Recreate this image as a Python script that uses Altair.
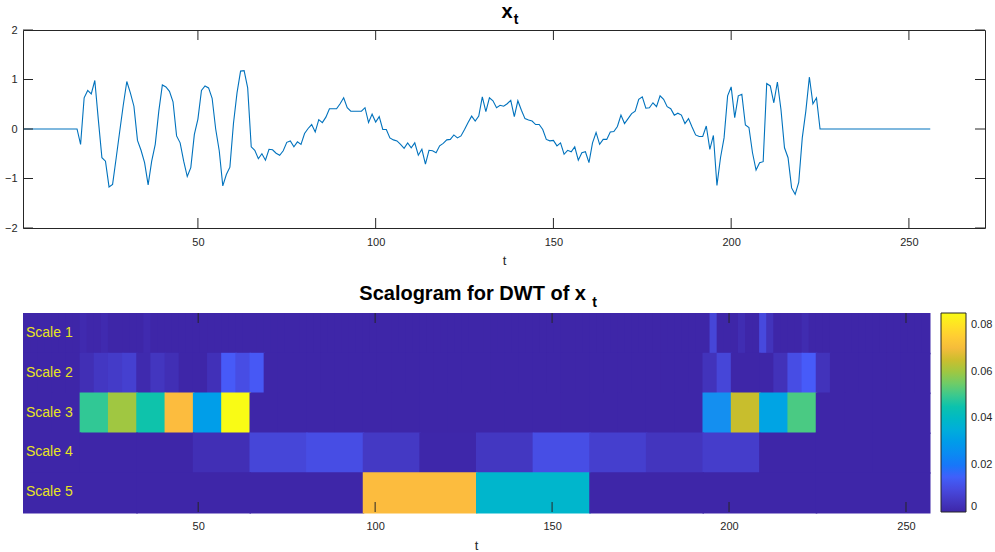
import altair as alt
import pandas as pd

# ---------------- data ----------------
t_vals = list(range(1, 257))
lead_zeros = [0.0] * 16          # t = 1..16
x_active = [                      # t = 17..225
    -0.31, 0.63, 0.78, 0.71, 0.98, 0.18, -0.58, -0.65, -1.17, -1.12,
    -0.59, -0.05, 0.48, 0.96, 0.73, 0.46, -0.23, -0.43, -0.68, -1.13,
    -0.65, -0.31, 0.36, 0.89, 0.85, 0.76, 0.55, -0.14, -0.28, -0.65,
    -0.96, -0.78, -0.11, 0.20, 0.78, 0.87, 0.83, 0.62, 0.00, -0.44,
    -1.15, -0.92, -0.77, 0.11, 0.73, 1.17, 1.18, 0.83, -0.36, -0.43,
    -0.60, -0.50, -0.63, -0.41, -0.42, -0.49, -0.53, -0.44, -0.27, -0.24,
    -0.36, -0.26, -0.31, -0.09, 0.01, 0.09, -0.06, 0.19, 0.13, 0.24,
    0.41, 0.41, 0.41, 0.51, 0.63, 0.43, 0.36, 0.36, 0.36, 0.36,
    0.43, 0.13, 0.30, 0.14, 0.25, -0.01, -0.01, -0.18, -0.22, -0.24,
    -0.31, -0.39, -0.28, -0.38, -0.28, -0.53, -0.41, -0.71, -0.43, -0.44,
    -0.48, -0.34, -0.29, -0.22, -0.21, -0.12, -0.18, -0.14, -0.01, 0.13,
    0.26, 0.16, 0.26, 0.65, 0.35, 0.63, 0.57, 0.43, 0.48, 0.46,
    0.51, 0.58, 0.25, 0.57, 0.38, 0.21, 0.18, 0.16, 0.09, 0.09,
    -0.01, -0.21, -0.24, -0.23, -0.34, -0.28, -0.51, -0.43, -0.46, -0.36,
    -0.63, -0.48, -0.46, -0.68, -0.28, -0.07, -0.31, -0.21, -0.21, -0.06,
    -0.05, 0.05, 0.28, 0.11, 0.21, 0.31, 0.36, 0.60, 0.65, 0.42,
    0.43, 0.53, 0.45, 0.67, 0.60, 0.45, 0.41, 0.28, 0.32, 0.28,
    0.11, 0.21, 0.04, -0.12, -0.15, -0.15, 0.06, -0.41, -0.13, -1.14,
    -0.58, -0.18, 0.67, 0.85, 0.23, 0.67, 0.70, 0.08, 0.03, -0.48,
    -0.83, -0.68, -0.66, 0.92, 0.87, 0.53, 0.95, 0.40, -0.38, -0.58,
    -1.19, -1.32, -1.08, -0.18, 0.36, 1.05, 0.51, 0.63, 0.00,
]
tail_zeros = [0.0] * 31          # t = 226..256
x_signal = lead_zeros + x_active + tail_zeros

scale_names = ["Scale 1", "Scale 2", "Scale 3", "Scale 4", "Scale 5"]

# DWT scalogram energies (coefficient j covers 2^level time points)
scale1_nonzero = {8: 0.0012, 9: 0.0004, 10: 0.0004, 11: 0.0012, 17: 0.0012,
                  97: 0.0085, 101: 0.0018, 104: 0.0095, 105: 0.0035, 110: 0.0015}
scale2 = [
    0, 0, 0, 0, 0.0023, 0.0047, 0.0057, 0.0071, 0.0011, 0.0042, 0.0024, 0, 0, 0.0028, 0.0140, 0.0106,
    0.0135, 0, 0, 0, 0, 0, 0, 0, 0, 0, 0, 0, 0, 0, 0, 0,
    0, 0, 0, 0, 0, 0, 0, 0, 0, 0, 0, 0, 0, 0, 0, 0,
    0.0035, 0.0085, 0, 0, 0, 0.0031, 0.0106, 0.0142, 0.0035, 0, 0, 0, 0, 0, 0, 0,
]
scale3 = [
    0, 0, 0.0489, 0.0600, 0.0453, 0.0710, 0.0304, 0.0850,
    0, 0, 0, 0, 0, 0, 0, 0,
    0, 0, 0, 0, 0, 0, 0, 0,
    0.0262, 0.0645, 0.0323, 0.0513, 0, 0, 0, 0,
]
scale4 = [0, 0, 0, 0.0023, 0.0085, 0.0105, 0.0050, 0.0003,
          0.0045, 0.0108, 0.0068, 0.0040, 0.0062, 0, 0, 0]
scale5 = [0, 0, 0, 0.0710, 0.0385, 0, 0, 0]

scale1 = [scale1_nonzero.get(i, 0.0) for i in range(128)]
levels = [scale1, scale2, scale3, scale4, scale5]

rows = []
for k, (name, coefs) in enumerate(zip(scale_names, levels)):
    w = 2 ** (k + 1)
    for j, v in enumerate(coefs):
        rows.append({"scale": name, "row": k + 1, "r0": k + 0.5, "r1": k + 1.5,
                     "t0": j * w + 0.5, "t1": (j + 1) * w + 0.5, "v": v})
heat_df = pd.DataFrame(rows)
label_df = pd.DataFrame({"scale": scale_names, "row": [1, 2, 3, 4, 5]})

line_df = pd.DataFrame({"t": t_vals, "x": x_signal})

x_ticks = [50, 100, 150, 200, 250]
y_ticks = [-2, -1, 0, 1, 2]
cbar_ticks = [0, 0.02, 0.04, 0.06, 0.08]

# parula-like colour map
cmap_stops = [0, 0.01417, 0.02833, 0.0425, 0.05667, 0.06375, 0.07083, 0.085]
cmap_colors = ["#3E26A8", "#475BF9", "#2796EB", "#12BEB9", "#81CC59", "#C2BE2D", "#FCBB3E", "#F9FB15"]

# ---------------- style ----------------
FONT = "Liberation Sans"
INK = "#262626"
W1, H1 = 962, 198
W2, H2 = 906, 199
TICK = 10

xt_df = pd.DataFrame({"t": x_ticks})
yt_df = pd.DataFrame({"x": y_ticks})

# ---------------- top panel ----------------
xscale1 = alt.Scale(domain=[0.8, 271.4], nice=False, zero=False)
yscale1 = alt.Scale(domain=[-2, 2], nice=False, zero=False)

line = alt.Chart(line_df).mark_line(color="#0072BD", strokeWidth=1.1).encode(
    x=alt.X("t:Q", scale=xscale1,
            axis=alt.Axis(values=x_ticks, tickSize=0, domain=False, grid=False,
                          labelPadding=8, title="t", titlePadding=7)),
    y=alt.Y("x:Q", scale=yscale1,
            axis=alt.Axis(values=y_ticks, tickSize=0, domain=False, grid=False,
                          labelPadding=6, title=None)),
)
xt_bot = alt.Chart(xt_df).mark_rule(color=INK, strokeWidth=1).encode(
    x="t:Q", y=alt.value(H1), y2=alt.value(H1 - TICK))
xt_top = alt.Chart(xt_df).mark_rule(color=INK, strokeWidth=1).encode(
    x="t:Q", y=alt.value(0), y2=alt.value(TICK))
yt_left = alt.Chart(yt_df).mark_rule(color=INK, strokeWidth=1).encode(
    y="x:Q", x=alt.value(0), x2=alt.value(TICK))
yt_right = alt.Chart(yt_df).mark_rule(color=INK, strokeWidth=1).encode(
    y="x:Q", x=alt.value(W1), x2=alt.value(W1 - TICK))

title1_main = alt.Chart(pd.DataFrame({"s": ["x"]})).mark_text(
    font=FONT, fontSize=20, fontWeight="bold", color="#000000", align="center", baseline="alphabetic"
).encode(text="s:N", x=alt.value(484), y=alt.value(-12))
title1_sub = alt.Chart(pd.DataFrame({"s": ["t"]})).mark_text(
    font=FONT, fontSize=14, fontWeight="bold", color="#000000", align="center", baseline="alphabetic"
).encode(text="s:N", x=alt.value(493), y=alt.value(-6))

top = alt.layer(line, xt_bot, xt_top, yt_left, yt_right, title1_main, title1_sub).properties(
    width=W1, height=H1)

# ---------------- bottom panel ----------------
color_scale = alt.Scale(domain=cmap_stops, range=cmap_colors)
xscale2 = alt.Scale(domain=[0.5, 256.5], nice=False, zero=False)
yscale2 = alt.Scale(domain=[0.5, 5.5], nice=False, zero=False, reverse=True)

heat = alt.Chart(heat_df).mark_rect(x2Offset=1.5, y2Offset=1.5).encode(
    x=alt.X("t0:Q", scale=xscale2,
            axis=alt.Axis(values=x_ticks, tickSize=0, domain=False, grid=False,
                          labelPadding=8, title="t", titlePadding=8)),
    x2="t1:Q",
    y=alt.Y("r0:Q", scale=yscale2, axis=None),
    y2="r1:Q",
    color=alt.Color("v:Q", scale=color_scale,
                    legend=alt.Legend(title=None, orient="right", offset=12, type="gradient",
                                      direction="vertical", gradientLength=H2, gradientThickness=25,
                                      values=cbar_ticks, format=".2~f", labelFont=FONT,
                                      labelFontSize=11, labelColor=INK, labelOffset=5,
                                      gradientStrokeColor=INK, gradientStrokeWidth=1)),
)

labels = alt.Chart(label_df).mark_text(
    font=FONT, fontSize=14, color="#E8E41E", align="left", baseline="middle"
).encode(x=alt.value(3), y=alt.Y("row:Q", scale=yscale2, axis=None), text="scale:N")

xt2_df = pd.DataFrame({"t0": x_ticks})
xt2_bot = alt.Chart(xt2_df).mark_rule(color=INK, strokeWidth=1).encode(
    x="t0:Q", y=alt.value(H2), y2=alt.value(H2 - TICK))
xt2_top = alt.Chart(xt2_df).mark_rule(color=INK, strokeWidth=1).encode(
    x="t0:Q", y=alt.value(0), y2=alt.value(TICK))

title2_main = alt.Chart(pd.DataFrame({"s": ["Scalogram for DWT of x"]})).mark_text(
    font=FONT, fontSize=20, fontWeight="bold", color="#000000", align="right", baseline="alphabetic"
).encode(text="s:N", x=alt.value(563), y=alt.value(-13))
title2_sub = alt.Chart(pd.DataFrame({"s": ["t"]})).mark_text(
    font=FONT, fontSize=14, fontWeight="bold", color="#000000", align="center", baseline="alphabetic"
).encode(text="s:N", x=alt.value(571.5), y=alt.value(-6))

bottom = alt.layer(heat, labels, xt2_bot, xt2_top, title2_main, title2_sub).properties(
    width=W2, height=H2)

chart = alt.vconcat(top, bottom, spacing=15).resolve_scale(
    color="independent"
).resolve_legend(
    color="independent"
).configure(
    font=FONT, padding={"left": 3, "top": 1, "right": 0, "bottom": 0}
).configure_view(
    stroke=INK, strokeWidth=1
).configure_axis(
    labelFont=FONT, labelFontSize=11, labelColor=INK,
    titleFont=FONT, titleFontSize=13, titleColor=INK, titleFontWeight="normal"
)

chart.save("out.html", embed_options={"renderer": "svg", "actions": False})
